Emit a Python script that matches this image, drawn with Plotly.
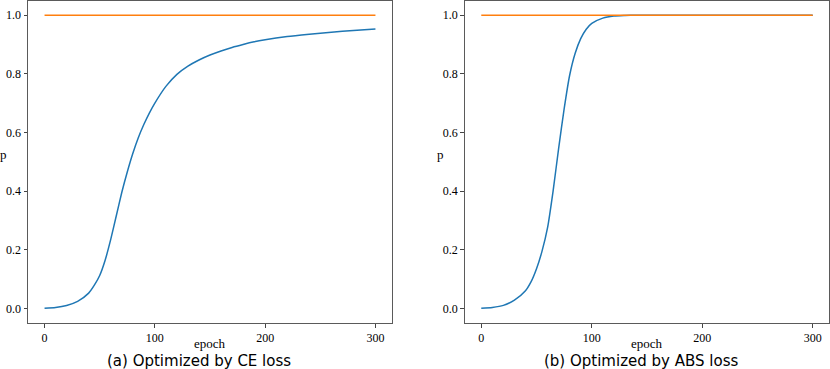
import plotly.graph_objects as go

# epochs sampled from the curves
epochs = [0, 10, 20, 30, 40, 45, 50, 55, 60, 65, 70, 75, 80, 85, 90, 95, 100,
          110, 120, 130, 140, 150, 160, 170, 180, 190, 200, 220, 240, 260, 280, 300]

# (a) CE loss
p_ce = [0.000, 0.003, 0.010, 0.024, 0.052, 0.078, 0.112, 0.165, 0.235, 0.315, 0.395,
        0.465, 0.528, 0.582, 0.627, 0.666, 0.700, 0.757, 0.798, 0.826, 0.847, 0.864,
        0.878, 0.890, 0.900, 0.909, 0.916, 0.927, 0.935, 0.942, 0.948, 0.953]

# (b) ABS loss
p_abs = [0.000, 0.003, 0.010, 0.028, 0.060, 0.090, 0.135, 0.195, 0.275, 0.400, 0.545,
         0.680, 0.795, 0.870, 0.920, 0.952, 0.972, 0.990, 0.997, 0.999, 1.000, 1.000,
         1.000, 1.000, 1.000, 1.000, 1.000, 1.000, 1.000, 1.000, 1.000, 1.000]

target_x = [0, 300]
target_p = [1.0, 1.0]

captions = ["(a) Optimized by CE loss", "(b) Optimized by ABS loss"]

W, H = 830, 369
BLUE = "#1f77b4"
ORANGE = "#ff7f0e"
SERIF = "Liberation Serif"

fig = go.Figure()

for i, p in enumerate([p_ce, p_abs]):
    xa = "x" if i == 0 else "x2"
    ya = "y" if i == 0 else "y2"
    fig.add_trace(go.Scatter(x=epochs, y=p, mode="lines", line=dict(color=BLUE, width=1.5, shape="spline", smoothing=0.6),
                             xaxis=xa, yaxis=ya, showlegend=False, hoverinfo="skip"))
    fig.add_trace(go.Scatter(x=target_x, y=target_p, mode="lines", line=dict(color=ORANGE, width=1.5),
                             xaxis=xa, yaxis=ya, showlegend=False, hoverinfo="skip"))

# axis positions in pixels (left, right)
x_dom = [(28, 392), (464.7, 829.3)]
y_dom = [1 - 323 / H, 1 - 0.5 / H]

ax_style = dict(showline=True, linecolor="#5a5a5a", linewidth=1, mirror=True, showgrid=False, zeroline=False,
                automargin=False, ticks="outside", ticklen=3.5, tickwidth=1, tickcolor="#444",
                tickfont=dict(family=SERIF, size=12, color="black"))

layout_axes = {}
for i, (l, r) in enumerate(x_dom):
    sfx = "" if i == 0 else "2"
    layout_axes["xaxis" + sfx] = dict(domain=[l / W, r / W], range=[-15, 315], tickvals=[0, 100, 200, 300],
                                      anchor="y" + sfx, **ax_style)
    layout_axes["yaxis" + sfx] = dict(domain=y_dom, range=[-0.05, 1.05], tickvals=[0, 0.2, 0.4, 0.6, 0.8, 1.0],
                                      tickformat=".1f", anchor="x" + sfx, **ax_style)

fig.update_layout(template="none", width=W, height=H, margin=dict(l=0, r=0, t=0, b=0, autoexpand=False),
                  paper_bgcolor="white", plot_bgcolor="white", **layout_axes)

annots = []
p_x = [3, 440.7]
cap_x = [199, 641]
for i, (l, r) in enumerate(x_dom):
    cx = (l + r) / 2 / W
    annots.append(dict(text="epoch", x=cx, y=1 - 343.5 / H, xref="paper", yref="paper", showarrow=False,
                       xanchor="center", yanchor="middle", font=dict(family=SERIF, size=13, color="black")))
    annots.append(dict(text=captions[i], x=cap_x[i] / W, y=1 - 360.5 / H, xref="paper", yref="paper", showarrow=False,
                       xanchor="center", yanchor="middle", font=dict(family="DejaVu Sans", size=15, color="black")))
    annots.append(dict(text="p", x=p_x[i] / W, y=1 - 155 / H, xref="paper", yref="paper", showarrow=False,
                       xanchor="center", yanchor="middle", font=dict(family=SERIF, size=13, color="black")))
fig.update_layout(annotations=annots)

# drop the default page margin so the figure sits at the window's corner
fig.write_html("out.html", config={"displayModeBar": False},
               post_script="document.body.style.margin='0';")
